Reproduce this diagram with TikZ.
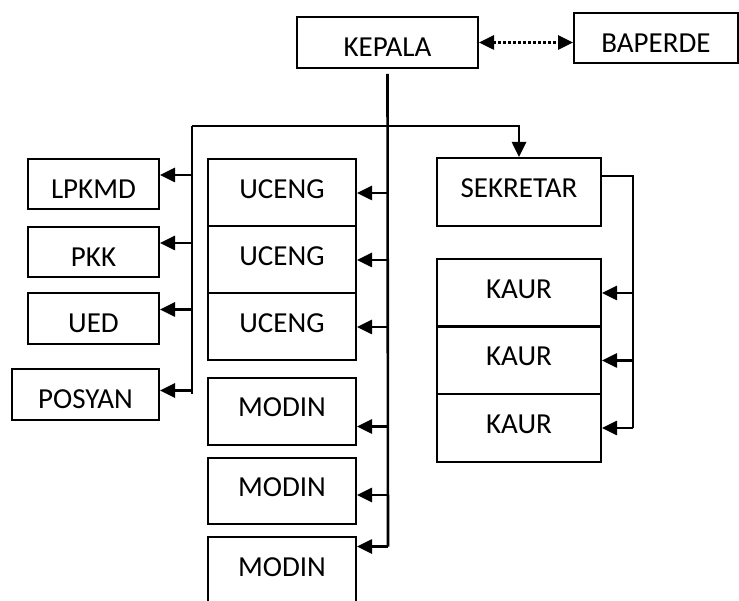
\documentclass[tikz,border=0pt]{standalone}
\usepackage{fontspec}
\setmainfont{Carlito}
\usetikzlibrary{arrows.meta}
\begin{document}
\begin{tikzpicture}[x=1pt, y=-1pt,
    box/.style={draw, line width=2pt, minimum height=67pt, inner sep=0pt, text height=11pt, text depth=0pt, font=\fontsize{29}{31}\selectfont},
    flat/.style={box, minimum height=50pt, text height=29pt},
    link/.style={line width=2.6pt},
    arr/.style={link, -{Triangle[length=15pt,width=14pt]}}]
    \useasboundingbox (0,0) rectangle (739,601);
    \clip (0,0) rectangle (739,601);
    % top
    \node (kepala) at (387.5,42.5) [flat, minimum width=181pt, minimum height=51pt] {KEPALA};
    \node (baperde) at (656,38) [flat, minimum width=164pt] {BAPERDE};
    \draw [link, dash pattern=on 2.6pt off 2.4pt, {Triangle[length=15pt,width=14pt]}-{Triangle[length=15pt,width=14pt]}] (kepala.east) -- (kepala.east -| baperde.west);
    % left column
    \node (lpkmd) at (93.5,184) [flat, minimum width=131pt] {LPKMD};
    \node (pkk) at (93.5,252) [flat, minimum width=131pt] {PKK};
    \node (ued) at (93.5,318.5) [flat, minimum width=131pt, minimum height=51pt] {UED};
    \node (posyan) at (85.5,394.5) [flat, minimum width=147pt, minimum height=51pt] {POSYAN};
    % middle column
    \node (uceng1) at (282,193) [box, minimum width=148pt] {UCENG};
    \node (uceng2) at (282,260) [box, minimum width=148pt] {UCENG};
    \node (uceng3) at (282,327) [box, minimum width=148pt] {UCENG};
    \node (modin1) at (282,411.5) [box, minimum width=148pt] {MODIN};
    \node (modin2) at (282,491) [box, minimum width=148pt, minimum height=66pt] {MODIN};
    \node (modin3) at (282,536) [box, minimum width=148pt, anchor=north] {MODIN};
    % right column
    \node (sekretar) at (519,192) [box, minimum width=164pt, minimum height=68pt] {SEKRETAR};
    \node (kaur1) at (519,293) [box, minimum width=164pt] {KAUR};
    \node (kaur2) at (519,360.5) [box, minimum width=164pt] {KAUR};
    \node (kaur3) at (519,428) [box, minimum width=164pt] {KAUR};
    % lines
    \coordinate (spine) at (388,0);
    \coordinate (bar) at (192,126);
    \coordinate (side) at (633,0);
    \draw [link] ([yshift=-5pt]kepala.south) -- ([yshift=24pt]modin3.east -| spine);
    \draw [arr] (bar) -| (sekretar.north);
    \draw [link] (bar) -- (posyan.east -| bar);
    \draw [arr] ([yshift=9pt]lpkmd.east -| bar) -- ([yshift=9pt]lpkmd.east);
    \draw [arr] ([yshift=9pt]pkk.east -| bar) -- ([yshift=9pt]pkk.east);
    \draw [arr] ([yshift=9pt]ued.east -| bar) -- ([yshift=9pt]ued.east);
    \draw [arr] ([yshift=4pt]posyan.east -| bar) -- ([yshift=4pt]posyan.east);
    \draw [arr] (uceng1.east -| spine) -- (uceng1.east);
    \draw [arr] (uceng2.east -| spine) -- (uceng2.east);
    \draw [arr] (uceng3.east -| spine) -- (uceng3.east);
    \draw [arr] ([yshift=-15pt]modin1.east -| spine) -- ([yshift=-15pt]modin1.east);
    \draw [arr] ([yshift=-4pt]modin2.east -| spine) -- ([yshift=-4pt]modin2.east);
    \draw [arr] ([yshift=24pt]modin3.east -| spine) -- ([yshift=24pt]modin3.east);
    \draw [link] ([yshift=16pt]sekretar.east) -| (kaur3.east -| side);
    \draw [arr] (kaur1.east -| side) -- (kaur1.east);
    \draw [arr] (kaur2.east -| side) -- (kaur2.east);
    \draw [arr] (kaur3.east -| side) -- (kaur3.east);
\end{tikzpicture}
\end{document}
